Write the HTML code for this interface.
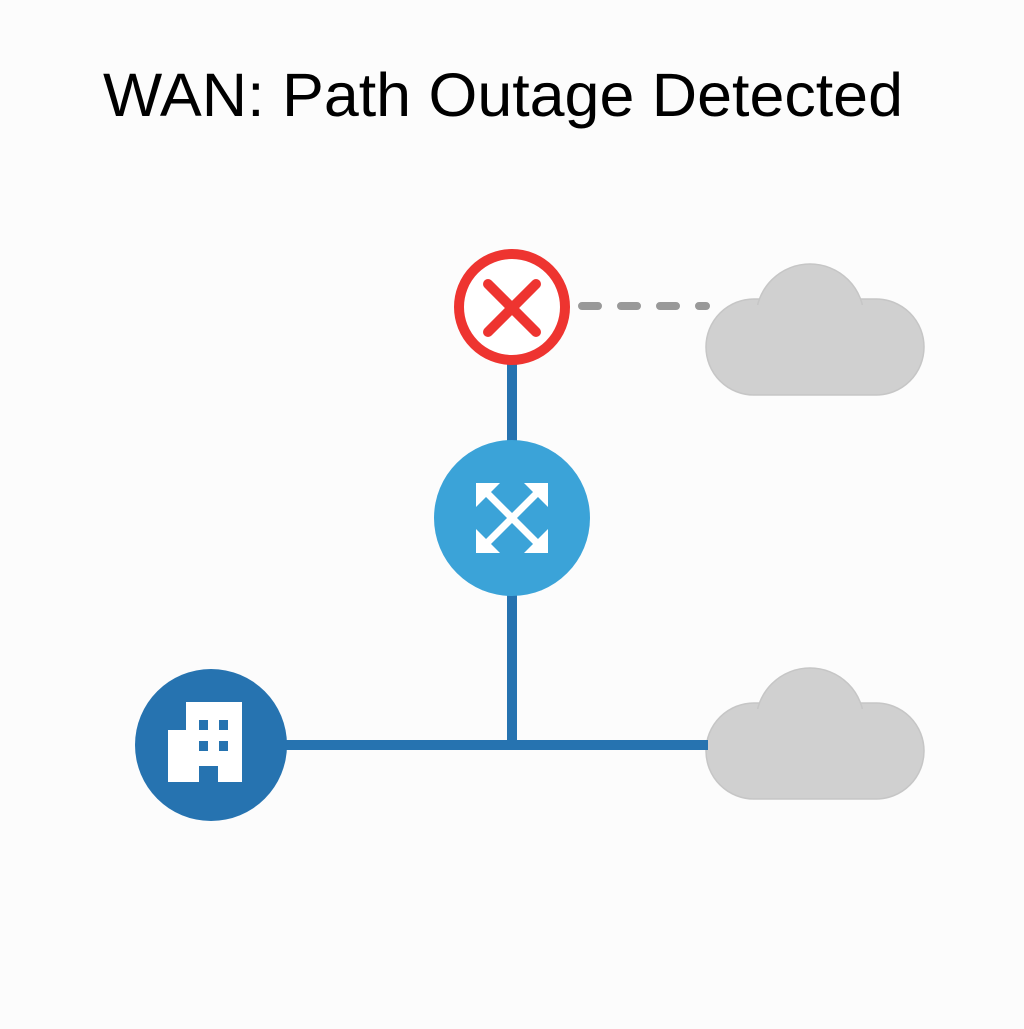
<!DOCTYPE html>
<html><head><style>html,body{margin:0;padding:0;background:#fcfcfc;}</style></head>
<body>
<svg width="1024" height="1024" viewBox="0 0 1024 1024" xmlns="http://www.w3.org/2000/svg">
<rect width="1024" height="1024" fill="#fcfcfc"/>
<text x="103" y="116" font-family="Liberation Sans, sans-serif" font-size="61" fill="#000" textLength="800" lengthAdjust="spacingAndGlyphs">WAN: Path Outage Detected</text>
<g fill="#d0d0d0" stroke="#c6c6c6" stroke-width="1.5">
<g>
<rect x="706" y="299" width="218" height="96" rx="48"/>
<circle cx="810" cy="318" r="54"/>
</g>
<g>
<rect x="706" y="703" width="218" height="96" rx="48"/>
<circle cx="810" cy="722" r="54"/>
</g>
</g>
<g fill="#d0d0d0">
<rect x="708" y="305" width="214" height="88" rx="44"/>
<rect x="708" y="709" width="214" height="88" rx="44"/>
</g>
<line x1="582" y1="306" x2="706" y2="306" stroke="#999" stroke-width="8" stroke-linecap="round" stroke-dasharray="16 23"/>
<g stroke="#2673b0" stroke-width="10">
<line x1="512" y1="360" x2="512" y2="748"/>
<line x1="280" y1="745" x2="708" y2="745"/>
</g>
<circle cx="512" cy="307" r="53" fill="#fff" stroke="#ee3430" stroke-width="10"/>
<g stroke="#ee3430" stroke-width="10" stroke-linecap="round">
<line x1="488" y1="284" x2="536" y2="332"/>
<line x1="536" y1="284" x2="488" y2="332"/>
</g>
<circle cx="512" cy="518" r="78" fill="#3ba3d8"/>
<g stroke="#fff" stroke-width="7" fill="#fff">
<line x1="482" y1="488" x2="542" y2="548"/>
<line x1="542" y1="488" x2="482" y2="548"/>
</g>
<g fill="#fff">
<polygon points="476,483 500,483 476,507"/>
<polygon points="548,483 524,483 548,507"/>
<polygon points="476,553 500,553 476,529"/>
<polygon points="548,553 524,553 548,529"/>
</g>
<circle cx="211" cy="745" r="76" fill="#2673b0"/>
<path d="M168,730 H186 V702 H242 V782 H218 V766 H199 V782 H168 Z" fill="#fff"/>
<g fill="#2673b0">
<rect x="199" y="720" width="9" height="10"/>
<rect x="219" y="720" width="9" height="10"/>
<rect x="199" y="741" width="9" height="10"/>
<rect x="219" y="741" width="9" height="10"/>
</g>
</svg>
</body></html>
